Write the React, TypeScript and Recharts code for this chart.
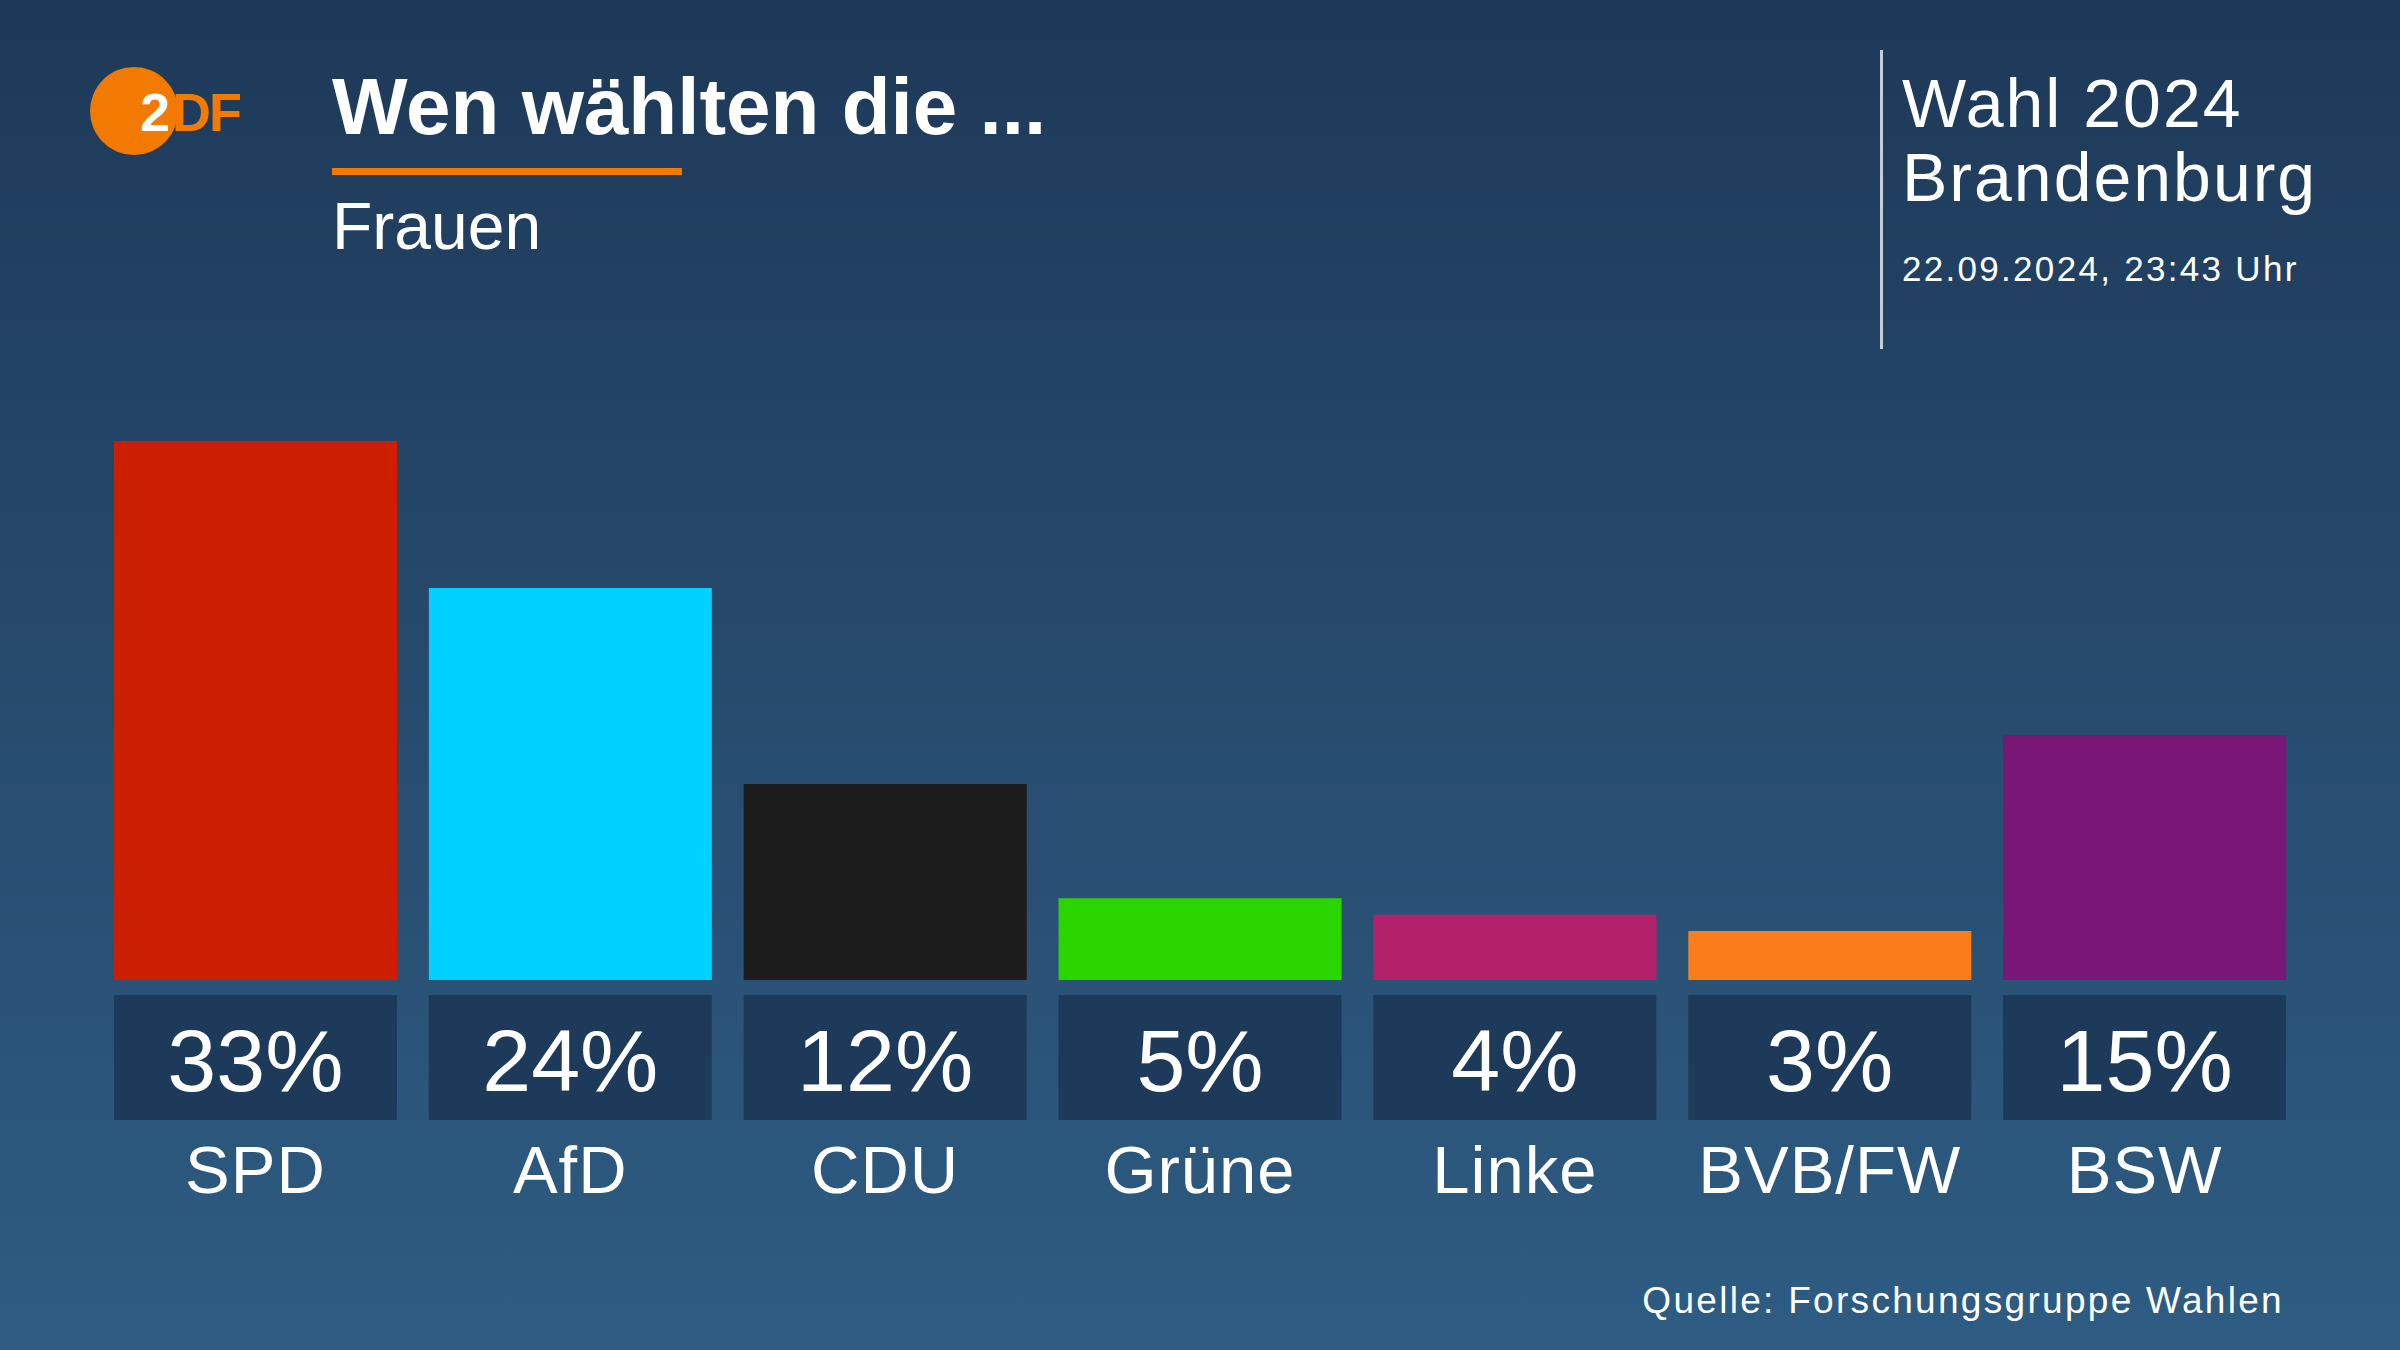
import React from "react";
import { BarChart, Bar, XAxis, YAxis, Cell } from "recharts";

const parties = ["SPD", "AfD", "CDU", "Grüne", "Linke", "BVB/FW", "BSW"];
const shares = [33, 24, 12, 5, 4, 3, 15];
const colors = ["#cc1e00", "#00d1ff", "#1c1c1c", "#2bd600", "#b3216a", "#f97e1a", "#7a1776"];

const data = parties.map((party, i) => ({ party, share: shares[i] }));

const FONT = "'Liberation Sans', Arial, sans-serif";

function PartyTick(props: any) {
  const { x, y, payload, index } = props;
  const w = 283;
  return (
    <g>
      <rect x={x - w / 2} y={y + 15} width={w} height={125} fill="#1e3a5a" />
      <text x={x} y={y + 111} textAnchor="middle" fill="#fff" fontSize={88} fontFamily={FONT}>
        {shares[index]}%
      </text>
      <text x={x} y={y + 213} textAnchor="middle" fill="#fff" fontSize={67} fontFamily={FONT} letterSpacing={1}>
        {payload.value}
      </text>
    </g>
  );
}

export default function App() {
  return (
    <div
      style={{
        position: "absolute",
        left: 0,
        top: 0,
        width: 2400,
        height: 1350,
        overflow: "hidden",
        background: "linear-gradient(180deg, #1e3959 0%, #26496b 45%, #2e5c82 100%)",
        fontFamily: FONT,
        color: "#fff",
      }}
    >
      {/* logo */}
      <svg width={260} height={180} style={{ position: "absolute", left: 0, top: 0 }}>
        <circle cx={134} cy={111} r={44} fill="#f27a00" />
        <text x={140} y={131} fontSize={54} fontWeight="bold" fontFamily={FONT} fill="#fff">2</text>
        <text x={172} y={131} fontSize={54} fontWeight="bold" fontFamily={FONT} fill="#f27a00" letterSpacing={-2}>DF</text>
      </svg>

      <div style={{ position: "absolute", left: 332, top: 61, fontSize: 80, fontWeight: "bold", lineHeight: "92px", whiteSpace: "nowrap" }}>
        Wen wählten die ...
      </div>
      <div style={{ position: "absolute", left: 332, top: 168, width: 350, height: 7, background: "#f27a00" }} />
      <div style={{ position: "absolute", left: 332, top: 188, fontSize: 66, lineHeight: "76px" }}>Frauen</div>

      <div style={{ position: "absolute", left: 1880, top: 50, width: 3, height: 299, background: "#c4ccd6" }} />
      <div style={{ position: "absolute", left: 1902, top: 66, fontSize: 68, lineHeight: "74px", letterSpacing: 2, whiteSpace: "nowrap" }}>
        Wahl 2024
        <br />
        Brandenburg
      </div>
      <div style={{ position: "absolute", left: 1902, top: 249, fontSize: 35, lineHeight: "40px", letterSpacing: 2.3, whiteSpace: "nowrap" }}>
        22.09.2024, 23:43 Uhr
      </div>

      <div style={{ position: "absolute", right: 116, top: 1280, fontSize: 37, lineHeight: "42px", letterSpacing: 2.3, whiteSpace: "nowrap" }}>
        Quelle: Forschungsgruppe Wahlen
      </div>

      <div style={{ position: "absolute", left: 0, top: 0 }}>
        <BarChart
          width={2400}
          height={1350}
          data={data}
          margin={{ top: 441, right: 98, bottom: 140, left: 98 }}
          barCategoryGap={16}
        >
          <XAxis
            dataKey="party"
            axisLine={false}
            tickLine={false}
            tickSize={0}
            tickMargin={0}
            height={230}
            interval={0}
            tick={<PartyTick />}
          />
          <YAxis hide domain={[0, 33]} allowDataOverflow />
          <Bar dataKey="share" isAnimationActive={false}>
            {data.map((d, i) => (
              <Cell key={d.party} fill={colors[i]} />
            ))}
          </Bar>
        </BarChart>
      </div>
    </div>
  );
}
